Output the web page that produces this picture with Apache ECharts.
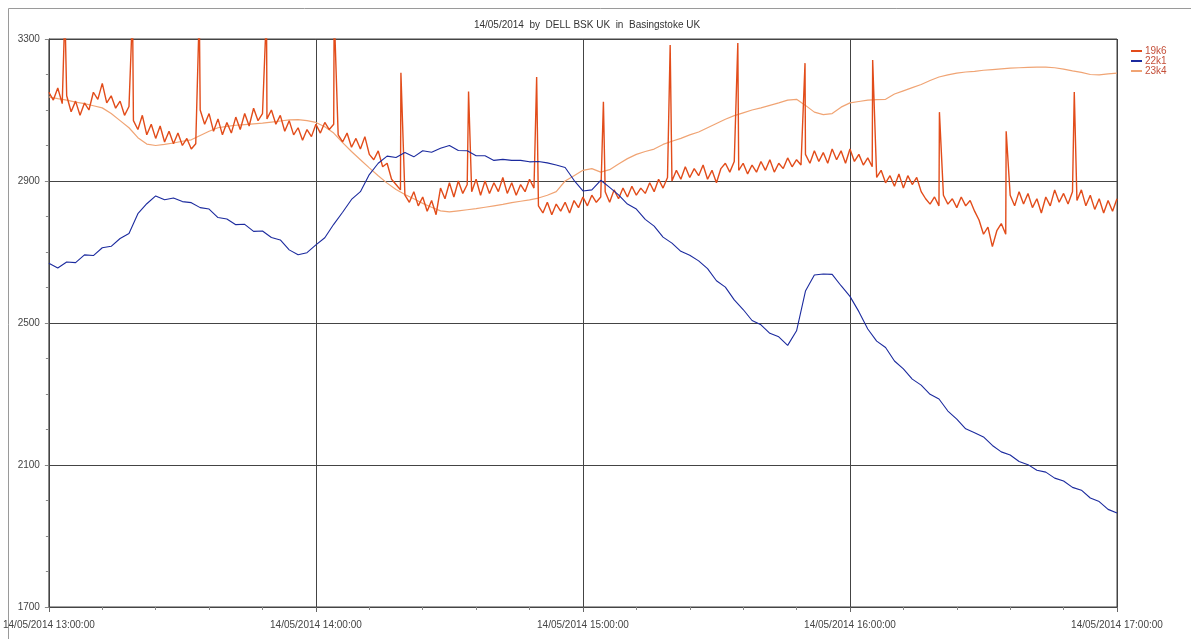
<!DOCTYPE html>
<html>
<head>
<meta charset="utf-8">
<script src="https://cdn.jsdelivr.net/npm/echarts@6/dist/echarts.min.js"></script>
<style>
  html, body { margin: 0; padding: 0; background: #fff; }
  #chart { width: 1191px; height: 639px; }
</style>
</head>
<body>
<div id="chart"></div>
<script>
// minutes after 13:00
var hourLabels = ["13:00:00", "14:00:00", "15:00:00", "16:00:00", "17:00:00"];
var seriesNames = ["19k6", "22k1", "23k4"];

// 19k6 - one reading per minute (0..240)
var red19k6 = [
  3150, 3128, 3162, 3118, 3140, 3095, 3125, 3085, 3120, 3100,
  3150, 3130, 3175, 3120, 3140, 3105, 3125, 3085, 3110, 3070,
  3045, 3085, 3030, 3060, 3020, 3055, 3010, 3040, 3005, 3035,
  3000, 3020, 2990, 3005, 3100, 3060, 3090, 3040, 3075, 3030,
  3065, 3035, 3080, 3045, 3090, 3055, 3105, 3070, 3090, 3075,
  3100, 3060, 3085, 3040, 3070, 3030, 3050, 3015, 3045, 3025,
  3060, 3035, 3065, 3045, 3060, 3030, 3010, 3035, 2995, 3020,
  2990, 3025, 2975, 2960, 2985, 2940, 2950, 2905, 2890, 2875,
  2860, 2840, 2870, 2830, 2855, 2815, 2845, 2805, 2880, 2850,
  2895, 2855, 2900, 2865, 2890, 2870, 2905, 2860, 2900, 2865,
  2895, 2870, 2910, 2865, 2895, 2860, 2890, 2870, 2905, 2880,
  2830, 2810, 2840, 2805, 2835, 2815, 2840, 2810, 2845, 2825,
  2855, 2830, 2860, 2840, 2855, 2870, 2840, 2875, 2850, 2880,
  2855, 2885, 2860, 2880, 2865, 2895, 2870, 2905, 2880, 2910,
  2900, 2930, 2905, 2940, 2910, 2935, 2915, 2945, 2905, 2930,
  2895, 2935, 2950, 2925, 2955, 2930, 2950, 2920, 2945, 2925,
  2955, 2930, 2960, 2925, 2950, 2935, 2965, 2940, 2960, 2945,
  2975, 2950, 2985, 2955, 2980, 2950, 2990, 2960, 2985, 2950,
  2990, 2955, 2975, 2945, 2965, 2940, 2910, 2930, 2895, 2915,
  2885, 2920, 2880, 2915, 2890, 2910, 2870, 2850, 2835, 2855,
  2830, 2860, 2835, 2850, 2825, 2855, 2830, 2845, 2815, 2790,
  2750, 2770, 2715, 2760, 2780, 2750, 2860, 2830, 2870, 2835,
  2865, 2825, 2850, 2810, 2855, 2830, 2875, 2840, 2865, 2835,
  2870, 2845, 2875, 2830, 2860, 2820, 2850, 2810, 2845, 2815,
  2850
];
// 19k6 short spikes (minute, peak)
var spikeMin = [3.6, 18.8, 33.8, 48.9, 64.1, 79.1, 94.3, 109.6, 124.6, 139.6, 154.8, 169.9, 185.1, 200.1, 215.1, 230.4];
var spikePeak = [3380, 3380, 3380, 3380, 3380, 3205, 3152, 3193, 3123, 3283, 3289, 3232, 3241, 3094, 3040, 3151];

// 22k1 - one reading every 2 minutes
var blue22k1 = [
  2668, 2655, 2672, 2670, 2692, 2690, 2712, 2716, 2738, 2752,
  2808, 2836, 2858, 2847, 2852, 2842, 2839, 2825, 2821, 2797,
  2793, 2777, 2778, 2758, 2759, 2741, 2734, 2706, 2692, 2698,
  2720, 2740, 2778, 2812, 2848, 2870, 2918, 2950, 2970, 2966,
  2980, 2968, 2985, 2981, 2992, 3000, 2986, 2985, 2971, 2971,
  2958, 2961, 2958, 2958, 2954, 2955, 2951, 2945, 2938, 2902,
  2872, 2875, 2902, 2882, 2861, 2835, 2821, 2792, 2773, 2742,
  2725, 2702, 2691, 2675, 2653, 2619, 2601, 2565, 2538, 2507,
  2495, 2471, 2461, 2437, 2478, 2590, 2635, 2638, 2637, 2605,
  2575, 2532, 2483, 2449, 2431, 2393, 2371, 2342, 2325, 2299,
  2286, 2252, 2229, 2202, 2191, 2179, 2155, 2137, 2128, 2110,
  2101, 2085, 2080, 2063, 2055, 2037, 2029, 2007, 1997, 1975,
  1965
];

// 23k4 - one reading every 2 minutes
var orange23k4 = [
  3137, 3132, 3128, 3122, 3118, 3112, 3106, 3090, 3070, 3050,
  3022, 3004, 3000, 3003, 3007, 3012, 3016, 3028, 3040, 3050,
  3054, 3057, 3059, 3061, 3063, 3066, 3069, 3072, 3073, 3070,
  3065, 3053, 3035, 3008, 2983, 2960, 2937, 2915, 2894, 2876,
  2862, 2850, 2837, 2826, 2816, 2813, 2816, 2819, 2822, 2826,
  2830, 2834, 2839, 2843, 2847, 2852, 2860, 2870, 2900, 2915,
  2930, 2935, 2925, 2932, 2948, 2963, 2975, 2983, 2990, 3003,
  3012, 3020, 3030, 3038, 3050, 3062, 3074, 3084, 3092, 3100,
  3106, 3113, 3120, 3128, 3130, 3113, 3094, 3087, 3090, 3108,
  3120, 3124, 3128, 3129, 3130, 3145, 3154, 3163, 3172, 3183,
  3193, 3199, 3204, 3207, 3209, 3212, 3214, 3216, 3218, 3219,
  3220, 3221, 3221, 3219, 3215, 3210, 3206, 3200, 3199, 3202,
  3204
];

// build [minute, value] pairs
var redData = [];
var s = 0;
red19k6.forEach(function (v, i) {
  while (s < spikeMin.length && spikeMin[s] < i) {
    redData.push([spikeMin[s], spikePeak[s]]);
    s++;
  }
  redData.push([i, v]);
});
var blueData = blue22k1.map(function (v, i) { return [i * 2, v]; });
var orangeData = orange23k4.map(function (v, i) { return [i * 2, v]; });

var font = "Liberation Sans, Arial, sans-serif";
var myChart = echarts.init(document.getElementById("chart"));
var option = {
  animation: false,
  backgroundColor: "#fff",
  color: ["#e24c1a", "#1b2a9e", "#f0a474"],
  graphic: [{
    type: "rect",
    shape: { x: 8.5, y: 8.5, width: 1300, height: 700 },
    style: { fill: "none", stroke: "#9a9a9a", lineWidth: 1 },
    silent: true
  }],
  title: {
    text: "14/05/2014  by  DELL BSK UK  in  Basingstoke UK",
    left: 582,
    textAlign: "center",
    top: 15,
    textStyle: { fontFamily: font, fontSize: 10, fontWeight: "normal", color: "#333" }
  },
  legend: {
    data: seriesNames,
    orient: "vertical",
    left: 1126,
    top: 41,
    itemWidth: 11,
    itemHeight: 2,
    itemGap: 0,
    icon: "rect",
    textStyle: { fontFamily: font, fontSize: 10, lineHeight: 9, color: "#c4503a", padding: [0, 0, 0, -2] }
  },
  grid: {
    left: 47,
    right: 74,
    top: 39,
    bottom: 32,
    show: true,
    borderColor: "#444",
    borderWidth: 1
  },
  xAxis: {
    type: "value",
    min: 0,
    max: 240,
    interval: 60,
    axisLine: { show: true, lineStyle: { color: "#444" } },
    axisTick: { show: true, length: 5, lineStyle: { color: "#666" } },
    minorTick: { show: true, splitNumber: 5, length: 3, lineStyle: { color: "#888" } },
    splitLine: { show: true, lineStyle: { color: "#444", width: 1 } },
    axisLabel: {
      fontFamily: font,
      fontSize: 10,
      color: "#444",
      margin: 13,
      formatter: function (v) {
        return "14/05/2014 " + hourLabels[Math.round(v / 60)];
      }
    }
  },
  yAxis: {
    type: "value",
    min: 1700,
    max: 3300,
    interval: 400,
    axisLine: { show: true, lineStyle: { color: "#444" } },
    axisTick: { show: true, length: 4, lineStyle: { color: "#888" } },
    minorTick: { show: true, splitNumber: 4, length: 3, lineStyle: { color: "#888" } },
    splitLine: { show: true, lineStyle: { color: "#444", width: 1 } },
    axisLabel: {
      fontFamily: font,
      fontSize: 10,
      color: "#444",
      margin: 9,
      formatter: function (v) { return String(v); }
    }
  },
  series: [
    {
      name: "19k6",
      type: "line",
      data: redData,
      showSymbol: false,
      z: 3,
      lineStyle: { width: 1.4, color: "#e24c1a" }
    },
    {
      name: "22k1",
      type: "line",
      data: blueData,
      showSymbol: false,
      z: 4,
      lineStyle: { width: 1.1, color: "#1b2a9e" }
    },
    {
      name: "23k4",
      type: "line",
      data: orangeData,
      showSymbol: false,
      z: 2,
      lineStyle: { width: 1.2, color: "#f0a474" }
    }
  ]
};
myChart.setOption(option);
</script>
</body>
</html>
